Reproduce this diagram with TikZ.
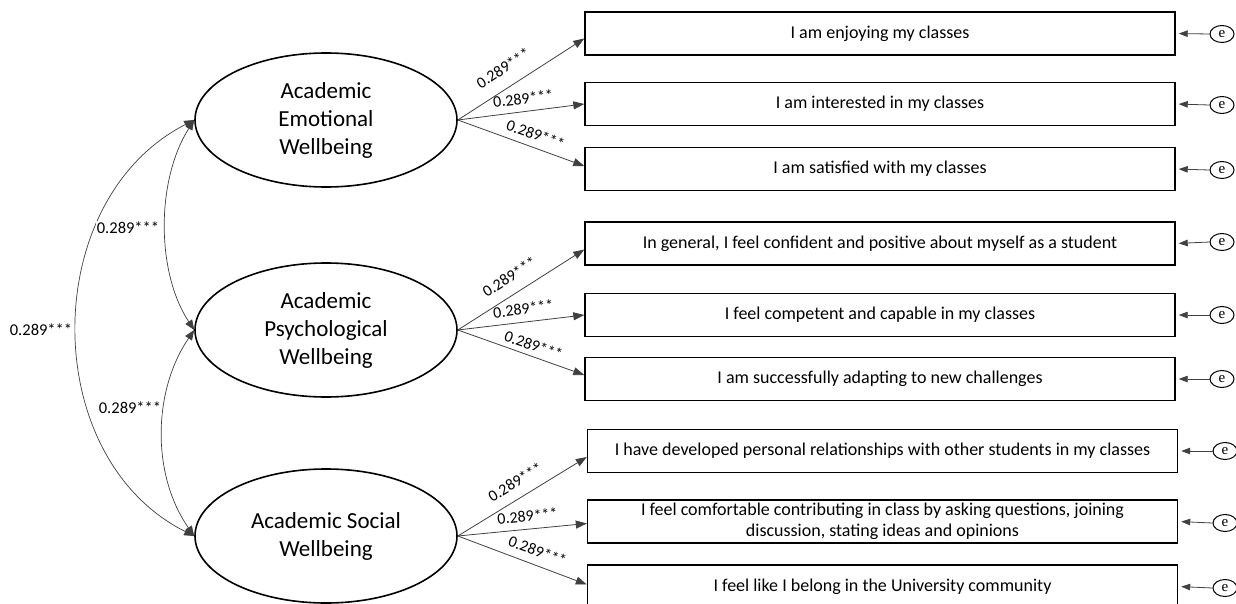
\documentclass[tikz,border=0pt]{standalone}
\usepackage{fontspec}
\setmainfont{Carlito}
\newfontfamily\errfont{Liberation Serif}
\usetikzlibrary{shapes.geometric,arrows.meta,calc}
\begin{document}
\begin{tikzpicture}[x=1pt,y=-1pt,
  latent/.style={ellipse,draw,line width=1.6pt,minimum width=262pt,minimum height=134pt,
    align=center,font=\fontsize{23}{28}\selectfont},
  item/.style={rectangle,draw,line width=1.4pt,minimum width=590pt,minimum height=43pt,
    align=center,font=\fontsize{18}{21}\selectfont,inner sep=0pt},
  errnode/.style={ellipse,draw,line width=1pt,minimum width=24pt,minimum height=17pt,
    inner sep=0pt,font=\errfont\fontsize{15}{15}\selectfont},
  load/.style={draw=black!75,line width=0.8pt,-{Triangle[length=11pt,width=8pt]}},
  errarr/.style={draw=black!75,line width=0.8pt,-{Triangle[length=9pt,width=6.5pt]},shorten >=3pt},
  cov/.style={draw=black!75,line width=0.7pt,{Triangle[length=10pt,width=8pt]}-{Triangle[length=10pt,width=8pt]}},
  coef/.style={font=\fontsize{16}{16}\selectfont,inner sep=1pt,sloped},
  covlab/.style={font=\fontsize{16.5}{17}\selectfont,inner sep=1pt,fill=white}]
\clip (0,0) rectangle (1236,604);
\fill[white] (0,0) rectangle (1236,604);

% latent factors
\node[latent] (aew) at (326,120) {Academic\\Emotional\\Wellbeing};
\node[latent] (apw) at (326,330) {Academic\\Psychological\\Wellbeing};
\node[latent] (asw) at (326,536) {Academic Social\\Wellbeing};

% indicator items
\node[item] (b1) at (880,33.5) {I am enjoying my classes};
\node[item] (b2) at (880,104) {I am interested in my classes};
\node[item] (b3) at (880,169) {I am satisfied with my classes};
\node[item] (b4) at (880,243.5) {In general, I feel confident and positive about myself as a student};
\node[item] (b5) at (880,315) {I feel competent and capable in my classes};
\node[item] (b6) at (880,379) {I am successfully adapting to new challenges};
\node[item] (b7) at (882.5,451) {I have developed personal relationships with other students in my classes};
\node[item] (b8) at (882.5,521.5) {I feel comfortable contributing in class by asking questions, joining\\discussion, stating ideas and opinions};
\node[item] (b9) at (882.5,586.5) {I feel like I belong in the University community};

% error terms
\node[errnode] (e1) at (1222,34) {e};
\node[errnode] (e2) at (1222,105) {e};
\node[errnode] (e3) at (1222,170) {e};
\node[errnode] (e4) at (1222,242) {e};
\node[errnode] (e5) at (1222,315) {e};
\node[errnode] (e6) at (1222,379) {e};
\node[errnode] (e7) at (1225,451) {e};
\node[errnode] (e8) at (1225,523) {e};
\node[errnode] (e9) at (1225,588) {e};
\foreach \i in {1,...,9} {\draw[errarr] (e\i.west) -- (b\i.east);}

% factor loadings
\draw[load] (aew.east) -- node[coef,pos=0.44,above=12pt] {0.289***} ($(b1.west)+(0,5)$);
\draw[load] (aew.east) -- node[coef,pos=0.53,above=6pt] {0.289***} (b2.west);
\draw[load] (aew.east) -- node[coef,pos=0.58,above=6pt] {0.289***} ($(b3.west)+(0,-3)$);
\draw[load] (apw.east) -- node[coef,pos=0.48,above=10pt] {0.289***} ($(b4.west)+(0,6)$);
\draw[load] (apw.east) -- node[coef,pos=0.53,above=6pt] {0.289***} (b5.west);
\draw[load] (apw.east) -- node[coef,pos=0.57,above=4pt] {0.289***} ($(b6.west)+(0,-4)$);
\draw[load] (asw.east) -- node[coef,pos=0.51,above=9pt] {0.289***} ($(b7.west)+(0,6)$);
\draw[load] (asw.east) -- node[coef,pos=0.55,above=6pt] {0.289***} ($(b8.west)+(0,2)$);
\draw[load] (asw.east) -- node[coef,pos=0.58,above=7pt] {0.289***} ($(b9.west)+(0,-2)$);

% factor covariances
\draw[cov] (aew.west) .. controls (156,180) and (156,272) .. (apw.west);
\draw[cov] (apw.west) .. controls (152,392) and (152,476) .. (asw.west);
\draw[cov] (aew.west) .. controls (38,200) and (38,458) .. (asw.west);
\node[covlab] (c1) at (128,228) {0.289***};
\node[covlab] (c2) at (130,408) {0.289***};
\node[covlab] (c3) at (41,330) {0.289***};
\end{tikzpicture}
\end{document}
